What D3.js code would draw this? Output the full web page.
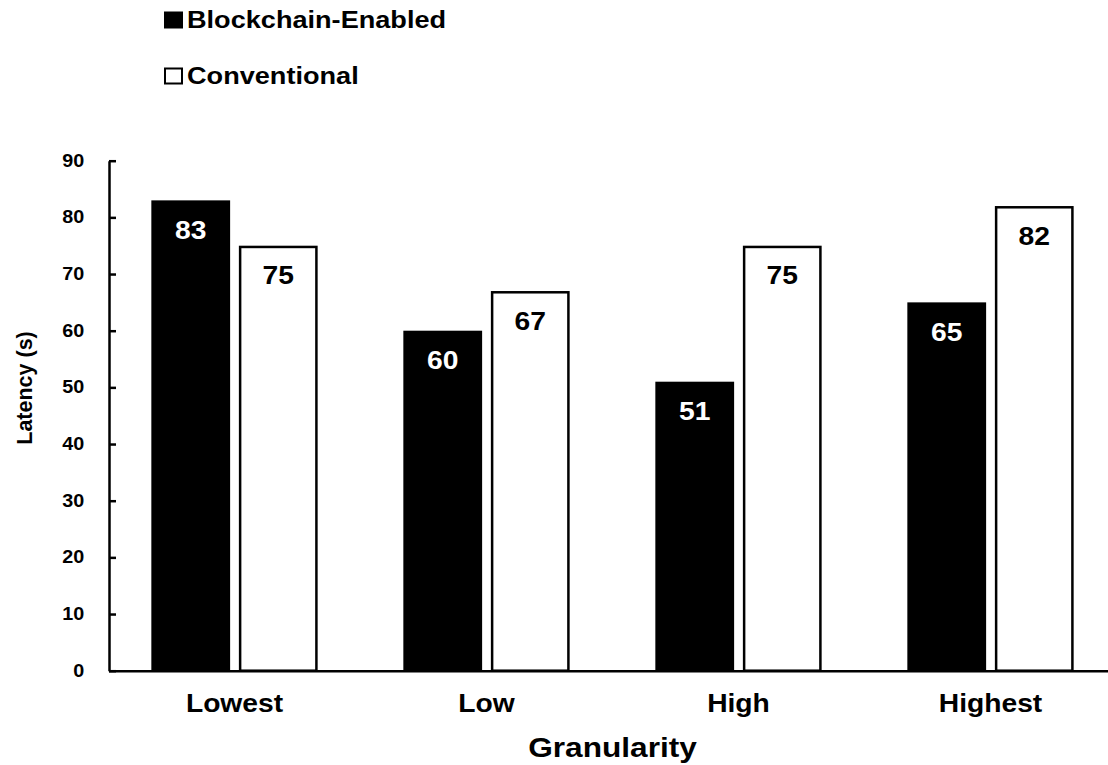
<!DOCTYPE html>
<html>
<head>
<meta charset="utf-8">
<script src="https://cdn.jsdelivr.net/npm/d3@7"></script>
<style>
  html, body { margin: 0; padding: 0; background: #fff; }
  svg { display: block; }
  text { font-family: "Liberation Sans", Arial, sans-serif; font-weight: bold; }
</style>
</head>
<body>
<svg id="chart" width="1108" height="765"></svg>
<script>
const categories = ["Lowest", "Low", "High", "Highest"];
const seriesNames = ["Blockchain-Enabled", "Conventional"];
const blockchainValues = [83, 60, 51, 65];
const conventionalValues = [75, 67, 75, 82];
const yTicks = [0, 10, 20, 30, 40, 50, 60, 70, 80, 90];
const xTitle = "Granularity";
const yTitle = "Latency (s)";

const SX = 1.13; // horizontal text stretch seen in the reference
const svg = d3.select("#chart");

const x0 = d3.scaleBand().domain(categories).range([108.5, 1116.5]).paddingInner(0.34).paddingOuter(0.17);
const x1 = d3.scaleBand().domain(seriesNames).range([0, x0.bandwidth()]).paddingInner(0.1).paddingOuter(0);
const y = d3.scaleLinear().domain([0, 90]).range([670.7, 160.7]);
const color = d3.scaleOrdinal().domain(seriesNames).range(["#000000", "#ffffff"]);
const labelColor = d3.scaleOrdinal().domain(seriesNames).range(["#ffffff", "#000000"]);

const rows = categories.map((c, i) => ({
  cat: c,
  vals: [
    { s: seriesNames[0], v: blockchainValues[i] },
    { s: seriesNames[1], v: conventionalValues[i] }
  ]
}));

const SW = 2.5;
const groups = svg.append("g").selectAll("g").data(rows).join("g")
  .attr("transform", d => `translate(${x0(d.cat)},0)`);

groups.selectAll("rect").data(d => d.vals).join("rect")
  .attr("x", d => x1(d.s) + SW / 2)
  .attr("width", x1.bandwidth() - SW)
  .attr("y", d => y(d.v) + SW / 2)
  .attr("height", d => y(0) - y(d.v) - SW / 2)
  .attr("fill", d => color(d.s))
  .attr("stroke", "#000")
  .attr("stroke-width", SW);

groups.selectAll("text.val").data(d => d.vals).join("text")
  .attr("class", "val")
  .attr("transform", d => `translate(${x1(d.s) + x1.bandwidth() / 2},${y(d.v) + 38.5}) scale(${SX},1)`)
  .attr("text-anchor", "middle")
  .attr("font-size", 25)
  .attr("fill", d => labelColor(d.s))
  .text(d => d.v);

// Y axis
const yAxis = svg.append("g").attr("transform", "translate(109,0)")
  .call(d3.axisLeft(y).tickValues(yTicks).tickSize(-7).tickSizeOuter(0).tickPadding(22));
yAxis.select(".domain").attr("stroke", "#000").attr("stroke-width", 2.5);
yAxis.selectAll(".tick line").attr("stroke", "#000").attr("stroke-width", 2.5);
yAxis.selectAll(".tick text")
  .attr("font-size", 17.5)
  .attr("fill", "#000")
  .attr("font-family", "Liberation Sans, Arial, sans-serif")
  .attr("transform", `scale(${SX},1)`);

// X axis
const xAxis = svg.append("g").attr("transform", `translate(0,${y(0)})`)
  .call(d3.axisBottom(x0).tickSize(0).tickSizeOuter(0).tickPadding(0));
xAxis.select(".domain").attr("stroke", "#000").attr("stroke-width", 2.5);
xAxis.selectAll(".tick text")
  .attr("font-size", 25)
  .attr("fill", "#000")
  .attr("font-family", "Liberation Sans, Arial, sans-serif")
  .attr("y", 0).attr("dy", 0)
  .attr("transform", `translate(0,41.5) scale(${SX},1)`);

// Axis titles
svg.append("text")
  .attr("transform", `translate(612.5,757) scale(${SX},1)`)
  .attr("text-anchor", "middle")
  .attr("font-size", 28)
  .text(xTitle);

svg.append("text")
  .attr("transform", `translate(32,388) rotate(-90)`)
  .attr("text-anchor", "middle")
  .attr("font-size", 21.5)
  .text(yTitle);

// Legend
const legend = svg.append("g").selectAll("g").data(seriesNames).join("g")
  .attr("transform", (d, i) => `translate(0,${i * 56})`);
legend.append("rect")
  .attr("x", 165).attr("y", 12.5)
  .attr("width", 17).attr("height", 15)
  .attr("fill", d => color(d))
  .attr("stroke", "#000").attr("stroke-width", 2);
legend.append("text")
  .attr("transform", `translate(187,27.5) scale(${SX},1)`)
  .attr("font-size", 24)
  .text(d => d);
</script>
</body>
</html>
